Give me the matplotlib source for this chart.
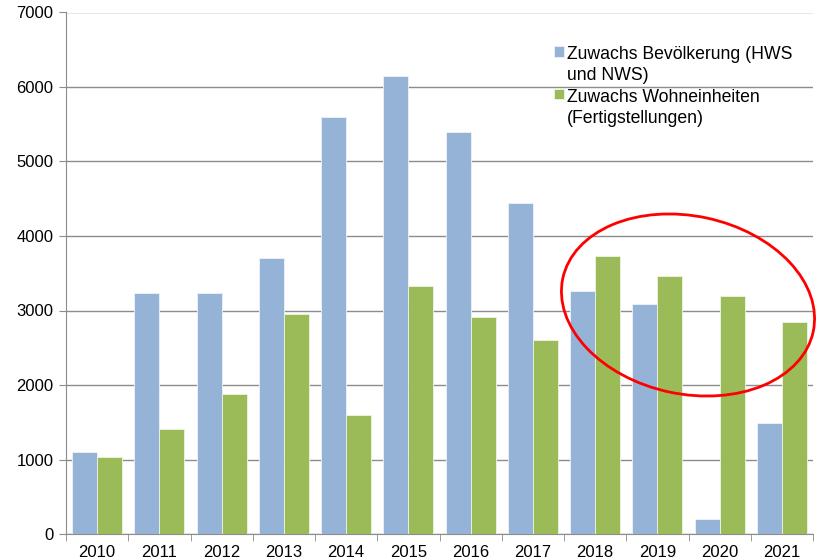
import matplotlib
matplotlib.use("Agg")
import matplotlib.pyplot as plt
import numpy as np
from matplotlib.patches import Ellipse
from matplotlib.transforms import IdentityTransform

years = ["2010", "2011", "2012", "2013", "2014", "2015",
         "2016", "2017", "2018", "2019", "2020", "2021"]
bevoelkerung = [1100, 3235, 3230, 3705, 5600, 6150, 5395, 4440, 3260, 3090, 200, 1490]
wohneinheiten = [1035, 1410, 1880, 2950, 1600, 3330, 2910, 2600, 3730, 3460, 3195, 2845]

plt.rcParams["font.family"] = ["Liberation Sans", "DejaVu Sans"]

fig = plt.figure(figsize=(8.17, 5.59), dpi=100)
ax = fig.add_axes([66/817, 25/559, 747/817, 521.5/559])

x = np.arange(len(years))
w = 0.4
ax.bar(x - w/2, bevoelkerung, width=w, color="#95B3D7", edgecolor="#EEF3F9", linewidth=0.6,
       label="Zuwachs Bevölkerung (HWS\nund NWS)", zorder=3)
ax.bar(x + w/2, wohneinheiten, width=w, color="#9BBB59", edgecolor="#EEF4E4", linewidth=0.6,
       label="Zuwachs Wohneinheiten\n(Fertigstellungen)", zorder=3)

ax.set_xlim(-0.5, len(years) - 0.5)
ax.set_ylim(0, 7000)
ax.set_yticks(np.arange(0, 7001, 1000))
ax.yaxis.grid(True, color="#8C8C8C", linewidth=1.0, zorder=0)

ax.set_xticks(x)
ax.set_xticklabels(years)
ax.set_xticks(np.arange(-0.5, len(years), 1), minor=True)
ax.tick_params(axis="x", which="major", length=0, labelsize=12, pad=8)
ax.tick_params(axis="x", which="minor", length=5, color="#8C8C8C")
ax.tick_params(axis="y", length=5, color="#8C8C8C", labelsize=12, pad=4)

for s in ["top", "right"]:
    ax.spines[s].set_visible(False)
for s in ["left", "bottom"]:
    ax.spines[s].set_color("#8C8C8C")

leg = fig.legend(loc="upper left", bbox_to_anchor=(538/817, 1 - 30/559), frameon=False,
                 fontsize=12.7, handlelength=0.55, handleheight=0.55, handletextpad=0.2,
                 labelspacing=0.25)
for t in leg.get_texts():
    t.set_linespacing(1.35)
# put the colour squares next to the first line of each label
for col in leg._legend_handle_box.get_children():
    for row in col.get_children():
        row.align = "top"

ell = Ellipse((688, 559 - 305), 256, 178, angle=-12, fill=False, edgecolor="#FF0000",
              linewidth=2, transform=IdentityTransform(), zorder=10)
fig.patches.append(ell)

fig.savefig("out.png", dpi=100)
